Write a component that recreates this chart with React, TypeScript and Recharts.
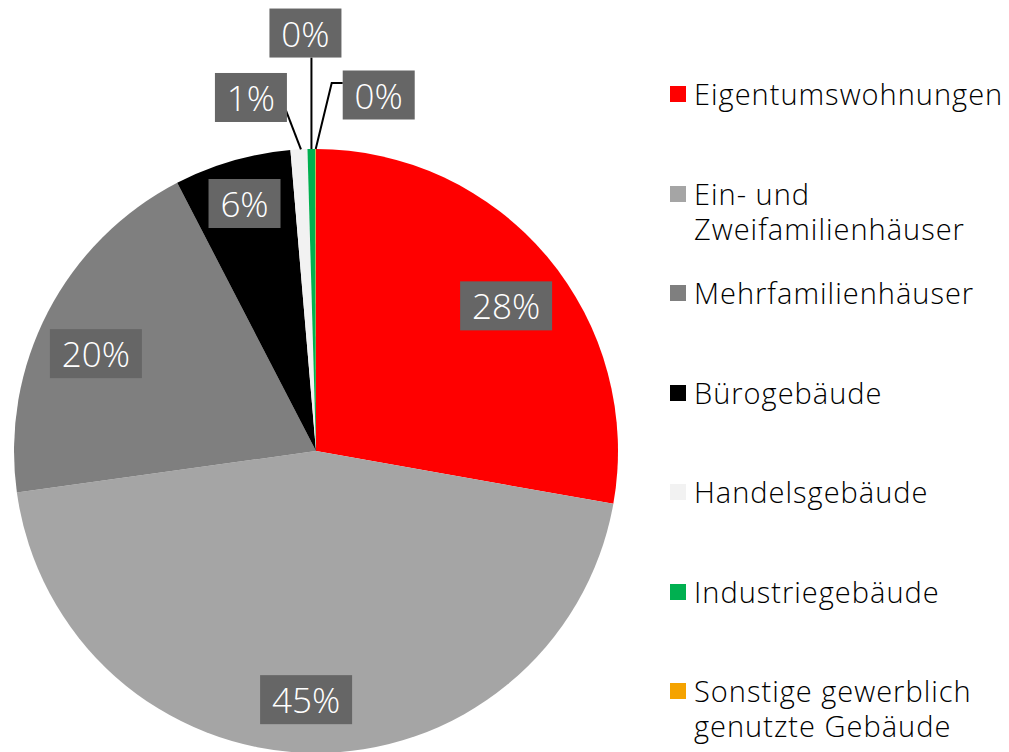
import React, { ReactElement } from "react";
import { PieChart, Pie, Cell, Legend } from "recharts";

const categories: string[] = [
    "Eigentumswohnungen",
    "Ein- und Zweifamilienhäuser",
    "Mehrfamilienhäuser",
    "Bürogebäude",
    "Handelsgebäude",
    "Industriegebäude",
    "Sonstige gewerblich genutzte Gebäude"
];

// share in percent
const shares: number[] = [27.8, 45.0, 19.6, 6.25, 0.9, 0.42, 0.03];

const colors: string[] = [
    "#ff0000",
    "#a5a5a5",
    "#7f7f7f",
    "#000000",
    "#f2f2f2",
    "#00b050",
    "#f5a300"
];

const data = categories.map((name, i) => ({ name, value: shares[i] }));

const FONT = "'Open Sans', sans-serif";
const RAD = Math.PI / 180;

// inside labels: radius factor and small angle nudge (excel "best fit")
const insideLabels: Record<number, { k: number; dA: number }> = {
    0: { k: 0.792, dA: -2.6 },
    1: { k: 0.824, dA: -1.2 },
    2: { k: 0.797, dA: 3.5 },
    3: { k: 0.853, dA: 0 }
};

// manual placement of the tiny slices' labels (offset from the arc point)
const outsideLabels: Record<number, { dx: number; dy: number; line: "diag" | "vert" | "elbow" }> = {
    4: { dx: -48, dy: -52, line: "diag" },
    5: { dx: -6, dy: -116, line: "vert" },
    6: { dx: 63, dy: -54, line: "elbow" }
};

const renderLabel = (props: any): ReactElement => {
    const { cx, cy, midAngle, outerRadius, percent, index } = props;
    const text = `${Math.round(percent * 100)}%`;
    const w = text.length === 3 ? 92 : 72;
    const h = 49;
    const out = outsideLabels[index];
    let x: number;
    let y: number;
    let line: ReactElement | null = null;
    if (out) {
        const ax = cx + outerRadius * Math.cos(-midAngle * RAD);
        const ay = cy + outerRadius * Math.sin(-midAngle * RAD);
        x = ax + out.dx;
        y = ay + out.dy;
        if (out.line === "diag") {
            line = <line x1={ax + 2} y1={ay} x2={x + w / 2 - 1} y2={y + 13} stroke="#000" strokeWidth={2} />;
        } else if (out.line === "vert") {
            line = <line x1={ax} y1={ay} x2={ax} y2={y + h / 2} stroke="#000" strokeWidth={2} />;
        } else {
            line = (
                <polyline
                    points={`${ax},${ay} ${ax + 16},${y - 12} ${x - w / 2},${y - 12}`}
                    fill="none"
                    stroke="#000"
                    strokeWidth={2}
                />
            );
        }
    } else {
        const pos = insideLabels[index] || { k: 0.8, dA: 0 };
        const r = outerRadius * pos.k;
        const a = (midAngle + pos.dA) * RAD;
        x = cx + r * Math.cos(-a);
        y = cy + r * Math.sin(-a);
    }
    return (
        <g key={`lbl-${index}`}>
            {line}
            <rect x={x - w / 2} y={y - h / 2} width={w} height={h} fill="#666666" />
            <text
                x={x}
                y={y}
                fill="#ffffff"
                textAnchor="middle"
                dominantBaseline="central"
                fontSize={35}
                fontWeight={300}
                fontFamily={FONT}
            >
                {text}
            </text>
        </g>
    );
};

// legend keeps the data order (recharts would sort the entries by name)
const renderLegend = (): ReactElement => (
    <div style={{ fontFamily: FONT, fontSize: 29, fontWeight: 300, letterSpacing: 1, color: "#000" }}>
        {categories.map((name, i) => (
            <div
                key={`leg-${i}`}
                style={{ display: "flex", alignItems: "flex-start", height: 99.5 }}
            >
                <div
                    style={{
                        width: 16,
                        height: 16,
                        marginTop: 10,
                        marginRight: 8,
                        flex: "none",
                        background: colors[i]
                    }}
                />
                <div style={{ lineHeight: "35px", width: 314 }}>{name}</div>
            </div>
        ))}
    </div>
);

const App = (): ReactElement => {
    return (
        <div style={{ position: "absolute", left: 0, top: 0, background: "#fff" }}>
            <PieChart width={1009} height={752}>
                <Pie
                    data={data}
                    dataKey="value"
                    nameKey="name"
                    cx={311}
                    cy={446}
                    outerRadius={302}
                    startAngle={90}
                    endAngle={-270}
                    stroke="none"
                    label={renderLabel}
                    labelLine={false}
                    isAnimationActive={false}
                >
                    {data.map((d, i) => (
                        <Cell key={d.name} fill={colors[i]} />
                    ))}
                </Pie>
                <Legend
                    layout="vertical"
                    align="right"
                    verticalAlign="top"
                    content={renderLegend}
                    wrapperStyle={{ left: 670, top: 76, width: 339 }}
                />
            </PieChart>
        </div>
    );
};

export default App;
